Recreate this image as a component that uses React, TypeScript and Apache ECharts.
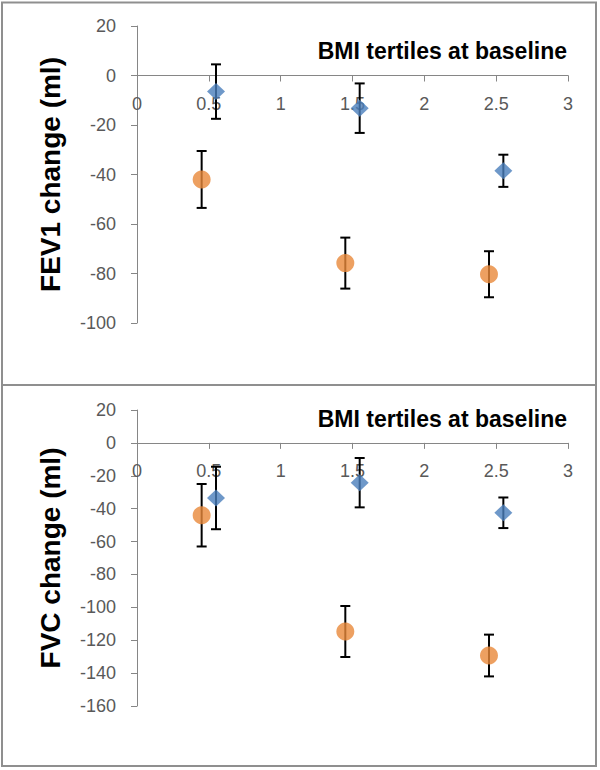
import React, { useEffect, useRef } from "react";
import * as echarts from "echarts";

// ---- data ----
const xTickLabels = ["0", "0.5", "1", "1.5", "2", "2.5", "3"];
const diamondX = [0.55, 1.55, 2.55];
const circleX = [0.45, 1.45, 2.45];

const fev1Diamond = [-6.5, -13.2, -38.5];
const fev1DiamondErr = [11, 10, 6.5];
const fev1Circle = [-42, -75.8, -80.3];
const fev1CircleErr = [11.5, 10.3, 9.3];

const fvcDiamond = [-33.5, -24.2, -42.5];
const fvcDiamondErr = [19, 15, 9.3];
const fvcCircle = [-44, -114.7, -129.3];
const fvcCircleErr = [19, 15.5, 12.7];

const fev1YMin = -100;
const fvcYMin = -160;
const yMax = 20;

const panelTitle = "BMI tertiles at baseline";
const fev1Name = "FEV1 change (ml)";
const fvcName = "FVC change (ml)";

const BLUE = "#4a7ebb";
const ORANGE = "#e8883a";
const AXIS = "#868686";
const LABEL = "#595959";
const FONT = "Liberation Sans";

const GRID_H = [297, 296];

function pts(xs: number[], ys: number[]) {
  return xs.map((x, i) => [x, ys[i]]);
}
function errs(xs: number[], ys: number[], es: number[]) {
  return xs.map((x, i) => [x, ys[i] - es[i], ys[i] + es[i]]);
}

const renderErr = (params: any, api: any) => {
  const x = api.value(0);
  const lo = api.coord([x, api.value(1)]);
  const hi = api.coord([x, api.value(2)]);
  const cap = 5;
  const style = { stroke: "#000", lineWidth: 2 };
  return {
    type: "group",
    children: [
      { type: "line", shape: { x1: lo[0], y1: lo[1], x2: hi[0], y2: hi[1] }, style },
      { type: "line", shape: { x1: hi[0] - cap, y1: hi[1], x2: hi[0] + cap, y2: hi[1] }, style },
      { type: "line", shape: { x1: lo[0] - cap, y1: lo[1], x2: lo[0] + cap, y2: lo[1] }, style },
    ],
  };
};

// x axis crosses the y axis at value 0 (Excel style): lift it from the grid bottom
function xAxisCfg(gridIndex: number, yMin: number) {
  const lift = (GRID_H[gridIndex] * (0 - yMin)) / (yMax - yMin);
  return {
    type: "value",
    gridIndex,
    min: 0,
    max: 3,
    interval: 0.5,
    position: "bottom",
    offset: -lift,
    axisLine: { onZero: false, lineStyle: { color: AXIS, width: 1 } },
    axisTick: { show: true, inside: false, length: 6, lineStyle: { color: AXIS } },
    axisLabel: {
      margin: 19,
      color: LABEL,
      fontSize: 18,
      fontFamily: FONT,
      formatter: (v: number) => {
        const i = Math.round(v / 0.5);
        return xTickLabels[i] ?? String(v);
      },
    },
    splitLine: { show: false },
    z: 1,
  };
}

function yAxisCfg(gridIndex: number, min: number, name: string) {
  return {
    type: "value",
    gridIndex,
    min,
    max: yMax,
    interval: 20,
    name,
    nameLocation: "middle",
    nameGap: 73,
    nameTextStyle: { fontSize: 28, fontWeight: "bold", color: "#000", fontFamily: FONT },
    axisLine: { show: true, onZero: false, lineStyle: { color: AXIS, width: 1 } },
    axisTick: { show: true, inside: false, length: 6, lineStyle: { color: AXIS } },
    axisLabel: { margin: 21, color: LABEL, fontSize: 18, fontFamily: FONT },
    splitLine: { show: false },
  };
}

export default function App() {
  const ref = useRef<HTMLDivElement>(null);

  useEffect(() => {
    document.body.style.margin = "0";
    if (!ref.current) return;
    const chart = echarts.init(ref.current, undefined, { renderer: "svg" });

    const titleStyle = { fontSize: 23, fontWeight: "bold", color: "#000", fontFamily: FONT };
    const option: any = {
      animation: false,
      backgroundColor: "#fff",
      title: [
        { text: panelTitle, right: 28, top: 34, textStyle: titleStyle },
        { text: panelTitle, right: 28, top: 402, textStyle: titleStyle },
      ],
      graphic: [
        {
          type: "rect",
          shape: { x: 2, y: 2.5, width: 594, height: 382.5 },
          style: { fill: "none", stroke: "#8f8f8f", lineWidth: 2 },
          silent: true,
          z: -1,
        },
        {
          type: "rect",
          shape: { x: 2, y: 385, width: 594, height: 381 },
          style: { fill: "none", stroke: "#8f8f8f", lineWidth: 2 },
          silent: true,
          z: -1,
        },
      ],
      grid: [
        { left: 137, right: 32, top: 26, height: GRID_H[0], containLabel: false },
        { left: 137, right: 32, top: 410, height: GRID_H[1], containLabel: false },
      ],
      xAxis: [xAxisCfg(0, fev1YMin), xAxisCfg(1, fvcYMin)],
      yAxis: [yAxisCfg(0, fev1YMin, fev1Name), yAxisCfg(1, fvcYMin, fvcName)],
      series: [
        {
          type: "custom",
          xAxisIndex: 0,
          yAxisIndex: 0,
          renderItem: renderErr,
          data: errs(diamondX, fev1Diamond, fev1DiamondErr),
          z: 2,
        },
        {
          type: "custom",
          xAxisIndex: 0,
          yAxisIndex: 0,
          renderItem: renderErr,
          data: errs(circleX, fev1Circle, fev1CircleErr),
          z: 2,
        },
        {
          type: "scatter",
          xAxisIndex: 0,
          yAxisIndex: 0,
          symbol: "diamond",
          symbolSize: [18, 17],
          itemStyle: { color: BLUE },
          data: pts(diamondX, fev1Diamond),
          z: 3,
        },
        {
          type: "scatter",
          xAxisIndex: 0,
          yAxisIndex: 0,
          symbol: "circle",
          symbolSize: 18,
          itemStyle: { color: ORANGE },
          data: pts(circleX, fev1Circle),
          z: 3,
        },
        {
          type: "custom",
          xAxisIndex: 1,
          yAxisIndex: 1,
          renderItem: renderErr,
          data: errs(diamondX, fvcDiamond, fvcDiamondErr),
          z: 2,
        },
        {
          type: "custom",
          xAxisIndex: 1,
          yAxisIndex: 1,
          renderItem: renderErr,
          data: errs(circleX, fvcCircle, fvcCircleErr),
          z: 2,
        },
        {
          type: "scatter",
          xAxisIndex: 1,
          yAxisIndex: 1,
          symbol: "diamond",
          symbolSize: [18, 17],
          itemStyle: { color: BLUE },
          data: pts(diamondX, fvcDiamond),
          z: 3,
        },
        {
          type: "scatter",
          xAxisIndex: 1,
          yAxisIndex: 1,
          symbol: "circle",
          symbolSize: 18,
          itemStyle: { color: ORANGE },
          data: pts(circleX, fvcCircle),
          z: 3,
        },
      ],
    };

    chart.setOption(option);
    return () => chart.dispose();
  }, []);

  return <div ref={ref} style={{ width: 600, height: 770 }} />;
}
